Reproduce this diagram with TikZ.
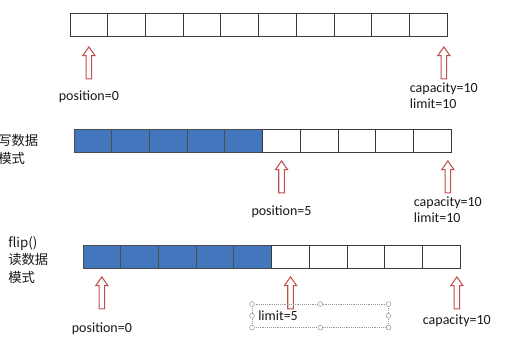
\documentclass[tikz,border=0pt]{standalone}
\usepackage{fontspec}
\setmainfont{Carlito}
\newfontfamily\cjk{Noto Sans CJK SC}
\usetikzlibrary{positioning,shapes.arrows}
\definecolor{cellblue}{HTML}{4277BE}
\definecolor{arrowred}{HTML}{C0504D}
\definecolor{gridline}{HTML}{3A3A3A}
\tikzset{
  cell/.style={draw=gridline, line width=0.7pt, minimum width=28.3pt, minimum height=17.25pt, inner sep=0pt, outer sep=0pt},
  fullcell/.style={cell, fill=cellblue, draw=black!70},
  uparrow/.style={single arrow, shape border rotate=90, draw=arrowred, line width=0.8pt, fill=white,
    minimum height=24pt, inner sep=1.7pt, single arrow head extend=2.5pt, single arrow tip angle=70, anchor=tip},
  lbl/.style={font=\fontsize{10.5}{12}\selectfont, text=black!90, inner sep=1pt},
  modelbl/.style={font=\fontsize{10}{13}\selectfont\cjk, text=black!90, inner sep=0pt, align=left, anchor=west},
  handle/.style={circle, draw=black!40, fill=white, line width=0.4pt, inner sep=0pt, minimum size=3.6pt},
}

\begin{document}
\begin{tikzpicture}[x=0.75pt, y=-0.75pt]
      \useasboundingbox (0,0) rectangle (531,340);

      % empty buffer
      \node[cell, anchor=west] (a1) at (70,24.5) {};
      \foreach \i [remember=\i as \j (initially 1)] in {2,...,10}
        \node[cell, right=0pt of a\j] (a\i) {};

      \node[uparrow] (pa) at ([yshift=-7.5pt]a1.south) {};
      \node[uparrow] (ca) at ([xshift=-2.6pt,yshift=-7.5pt]a10.south east) {};
      \node[lbl, below=7.5pt of pa.tail] (pla) {position=0};
      \node[lbl, align=left, below=1pt of ca.tail] (cla) {capacity=10\\limit=10};

      % write mode
      \node[modelbl] (wm) at (-2,149.5) {写数据\\模式};
      \node[fullcell, anchor=west] (b1) at (74,140.5) {};
      \foreach \i [remember=\i as \j (initially 1)] in {2,...,5}
        \node[fullcell, right=0pt of b\j] (b\i) {};
      \foreach \i [remember=\i as \j (initially 5)] in {6,...,10}
        \node[cell, right=0pt of b\j] (b\i) {};

      \node[uparrow] (pb) at ([yshift=-6pt]b6.south) {};
      \node[uparrow] (cb) at ([xshift=-2.6pt,yshift=-6pt]b10.south east) {};
      \node[lbl, below=8pt of pb.tail] (plb) {position=5};
      \node[lbl, align=left, below=1.5pt of cb.tail] (clb) {capacity=10\\limit=10};

      % read mode after flip()
      \node[modelbl] (rm) at (8,260) {flip()\\读数据\\模式};
      \node[fullcell, anchor=west] (c1) at (83,256.5) {};
      \foreach \i [remember=\i as \j (initially 1)] in {2,...,5}
        \node[fullcell, right=0pt of c\j] (c\i) {};
      \foreach \i [remember=\i as \j (initially 5)] in {6,...,10}
        \node[cell, right=0pt of c\j] (c\i) {};

      \node[uparrow] (pc) at ([yshift=-6pt]c1.south) {};
      \node[uparrow] (lc) at ([yshift=-6pt]c6.south) {};
      \node[uparrow] (cc) at ([xshift=-2.6pt,yshift=-6pt]c10.south east) {};
      \node[lbl, below=8.5pt of pc.tail] (plc) {position=0};
      \node[lbl, below=3pt of cc.tail] (clc) {capacity=10};

      % text box still selected
      \node[draw=black!40, densely dotted, line width=0.4pt, minimum width=102pt, minimum height=17.25pt,
        inner sep=0pt, anchor=north west] (sel) at (252,304) {};
      \foreach \a in {north west,north,north east,east,south east,south,south west,west}
        \node[handle] at (sel.\a) {};
      \node[lbl, anchor=west, inner sep=0pt] (llc) at ([xshift=4.5pt]sel.west) {limit=5};
\end{tikzpicture}
\end{document}
